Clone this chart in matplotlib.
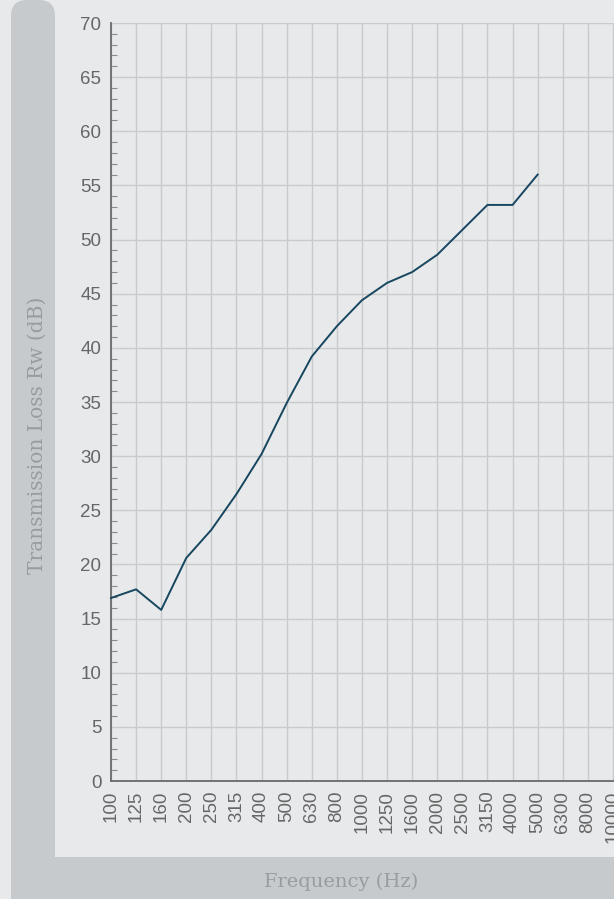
import numpy as np
import matplotlib
matplotlib.use("Agg")
import matplotlib.pyplot as plt
from matplotlib.patches import FancyBboxPatch, Rectangle
from matplotlib.ticker import MultipleLocator

# 1/3 octave bands and measured transmission loss
freqs = ["100", "125", "160", "200", "250", "315", "400", "500", "630", "800",
         "1000", "1250", "1600", "2000", "2500", "3150", "4000", "5000",
         "6300", "8000", "10000"]
loss = [16.9, 17.7, 15.8, 20.6, 23.2, 26.5, 30.2, 34.9, 39.2, 42.0,
        44.4, 46.0, 47.0, 48.6, 50.9, 53.2, 53.2, 56.0]

bg = "#e8e9eb"
band = "#c6cacd"
tick_col = "#666666"
label_col = "#979ca0"
line_col = "#17465f"

fig = plt.figure(figsize=(6.14, 8.99), dpi=100)
fig.patch.set_facecolor(bg)

# grey L-shaped band behind the chart
fig.patches.append(FancyBboxPatch((0.11, -0.5), 0.44, 9.49,
                                  boxstyle="round,pad=0,rounding_size=0.16",
                                  transform=fig.dpi_scale_trans,
                                  facecolor=band, edgecolor="none", zorder=0))
fig.patches.append(Rectangle((0.11, 0), 6.2, 0.42, transform=fig.dpi_scale_trans,
                             facecolor=band, edgecolor="none", zorder=0))

ax = fig.add_axes([111 / 614, 118 / 899, 517 / 614, 758 / 899])
ax.set_facecolor("none")

x = np.arange(len(freqs))
ax.plot(x[:len(loss)], loss, color=line_col, lw=1.4, zorder=3, clip_on=False)

ax.set_xlim(0, 20.6)
ax.set_ylim(0, 70)
ax.set_xticks(x)
ax.set_xticklabels(freqs, rotation=90)
ax.yaxis.set_major_locator(MultipleLocator(5))
ax.yaxis.set_minor_locator(MultipleLocator(1))

ax.grid(True, which="major", color="#c9cacc", lw=1.0)
ax.set_axisbelow(True)

for s in ["top", "right"]:
    ax.spines[s].set_visible(False)
for s in ["left", "bottom"]:
    ax.spines[s].set_color("#6a6a6a")
    ax.spines[s].set_linewidth(1.3)

ax.tick_params(axis="x", length=0, pad=7, labelsize=13.5, labelcolor=tick_col)
ax.tick_params(axis="y", which="major", length=0, pad=7, labelsize=13.5,
               labelcolor=tick_col)
ax.tick_params(axis="y", which="minor", direction="in", length=4, width=0.8,
               color="#8a8a8a")
for lab in ax.get_xticklabels() + ax.get_yticklabels():
    lab.set_family("Liberation Sans")

fig.text(37 / 614, 1 - 435 / 899, "Transmission Loss Rw (dB)", rotation=90,
         ha="center", va="center", fontsize=14.5, color=label_col,
         family="DejaVu Serif")
fig.text(341 / 614, 1 - 882 / 899, "Frequency (Hz)", ha="center", va="center",
         fontsize=14, color=label_col, family="DejaVu Serif")

fig.savefig("out.png", dpi=100, facecolor=bg)
